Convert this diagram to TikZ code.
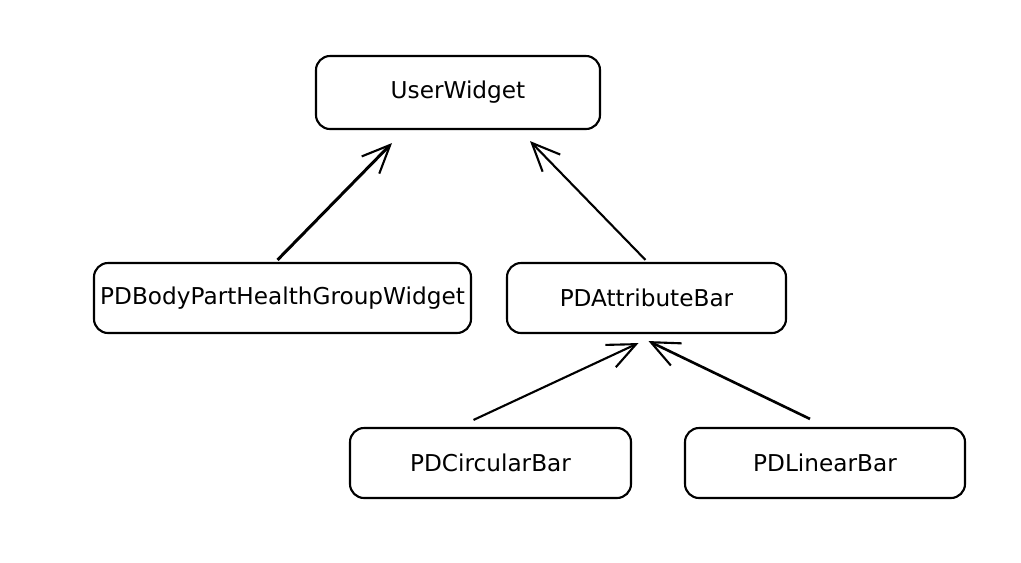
\documentclass[tikz,border=0pt]{standalone}
\usepackage{fontspec}
\setmainfont{DejaVu Sans}
\usetikzlibrary{arrows.meta,calc}

\begin{document}
\begin{tikzpicture}[x=0.02cm,y=-0.02cm,
        box/.style={draw,line width=1.2pt,rounded corners=8pt,minimum height=70*0.02cm,
            font=\fontsize{13.2}{15}\selectfont,inner sep=0pt},
        link/.style={line width=1.2pt,-{Straight Barb[length=16pt,width=14pt,line width=1.2pt]}}]
        \useasboundingbox (0,0) rectangle (1021,562);

        \node[box,minimum width=284*0.02cm,minimum height=73*0.02cm] (user) at (458,92.5) {UserWidget};
        \node[box,minimum width=377*0.02cm] (body) at (282.5,298) {PDBodyPartHealthGroupWidget};
        \node[box,minimum width=279*0.02cm] (attr) at (646.5,298) {PDAttributeBar};
        \node[box,minimum width=281*0.02cm] (circ) at (490.5,463) {PDCircularBar};
        \node[box,minimum width=280*0.02cm] (lin) at (825,463) {PDLinearBar};

        \draw[link,line width=1.7pt] ($(body.north)+(-5,-2)$) -- ($(user.south)+(-66,13)$);
        \draw[link] ($(attr.north)+(-1,-2)$) -- ($(user.south)+(72,11)$);
        \draw[link] ($(circ.north)+(-17,-7)$) -- ($(attr.south)+(-8,9)$);
        \draw[link,line width=1.5pt] ($(lin.north)+(-15,-8)$) -- ($(attr.south)+(2,7)$);
    \end{tikzpicture}
\end{document}
